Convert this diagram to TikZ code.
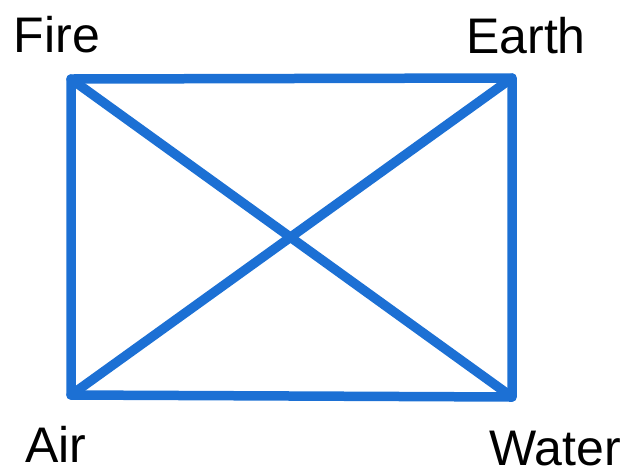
\documentclass[tikz,border=0pt]{standalone}
\usepackage{fontspec}
\setmainfont{Liberation Sans}
\definecolor{lineblue}{RGB}{28,112,212}
\begin{document}
\begin{tikzpicture}[x=1pt,y=-1pt,
  edge/.style={draw=lineblue,line width=9.5pt,line cap=round,line join=round},
  lbl/.style={font=\fontsize{50}{60}\selectfont,anchor=base,inner sep=0pt,text=black}]
\useasboundingbox (0,0) rectangle (628,475);
\coordinate (F) at (71,79);
\coordinate (E) at (512,78);
\coordinate (A) at (71,395);
\coordinate (W) at (512,397);
\draw[edge] (F) -- (E) -- (W) -- (A) -- cycle;
\draw[edge] (F) -- (W);
\draw[edge] (A) -- (E);
\node[lbl] (fire) at (57,52) {Fire};
\node[lbl] (earth) at (526,53) {Earth};
\node[lbl] (air) at (56,462) {Air};
\node[lbl] (water) at (555,465) {Water};
\end{tikzpicture}
\end{document}
